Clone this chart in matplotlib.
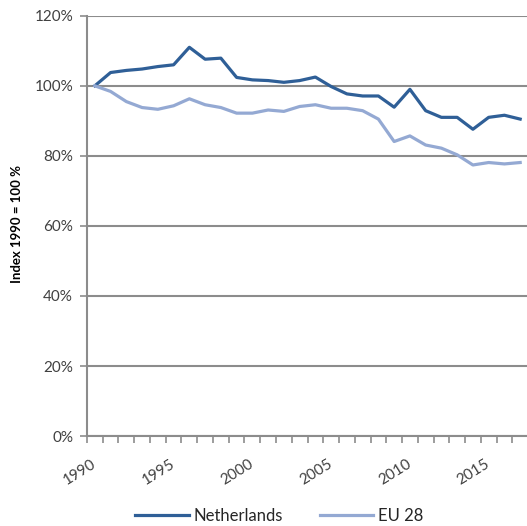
import numpy as np
import matplotlib
matplotlib.use("Agg")
import matplotlib.pyplot as plt
from matplotlib.ticker import FixedLocator, FuncFormatter

plt.rcParams['font.family'] = ['Lato', 'DejaVu Sans']

# data (index 1990 = 100 %)
years = list(range(1990, 2018))
netherlands = [100, 103.8, 104.4, 104.8, 105.5, 106.0, 111.0, 107.6, 107.9, 102.4,
               101.7, 101.5, 101.0, 101.5, 102.5, 99.8, 97.7, 97.1, 97.1, 93.9,
               99.0, 92.9, 91.0, 91.0, 87.6, 91.0, 91.6, 90.5]
eu28 = [100, 98.4, 95.5, 93.8, 93.3, 94.3, 96.3, 94.6, 93.8, 92.2,
        92.2, 93.1, 92.7, 94.1, 94.6, 93.6, 93.6, 92.9, 90.5, 84.1,
        85.7, 83.1, 82.2, 80.3, 77.4, 78.1, 77.7, 78.1]
yticks = [0, 20, 40, 60, 80, 100, 120]
label_years = [1990, 1995, 2000, 2005, 2010, 2015]

grey = '#8c8c8c'

fig = plt.figure(figsize=(5.27, 5.26), dpi=100)
ax = fig.add_axes([0.165, 0.171, 0.837, 0.799])

x = np.arange(len(years))
ax.plot(x, netherlands, color='#2f5f97', lw=2.3, label='Netherlands', zorder=3)
ax.plot(x, eu28, color='#94a9d3', lw=2.3, label='EU 28', zorder=3)

ax.set_xlim(-0.5, len(years) - 0.5)
ax.set_ylim(0, 120)

# y axis
ax.set_yticks(yticks)
ax.yaxis.set_major_formatter(FuncFormatter(lambda v, p: '%d%%' % v))
ax.grid(axis='y', color=grey, lw=1.5)
ax.tick_params(axis='y', length=5, width=1.2, color=grey, labelsize=11,
               labelcolor='#404040', pad=5)

# x axis: tick marks between categories, labels every 5 years
ax.xaxis.set_minor_locator(FixedLocator(np.arange(-0.5, len(years), 1)))
ax.set_xticks([years.index(y) for y in label_years])
ax.set_xticklabels([str(y) for y in label_years], rotation=32, ha='right',
                   va='center', rotation_mode='anchor')
ax.tick_params(axis='x', which='major', length=0, labelsize=11,
               labelcolor='#404040', pad=19)
ax.tick_params(axis='x', which='minor', length=5, width=1.2, color=grey)

for s in ['top', 'right']:
    ax.spines[s].set_visible(False)
for s in ['left', 'bottom']:
    ax.spines[s].set_color(grey)
    ax.spines[s].set_linewidth(1.5)

fig.text(0.033, 0.574, 'Index 1990 = 100 %', rotation=90, ha='center',
         va='center', fontsize=9.5, fontweight='bold', color='#000000')

fig.legend(loc='center', bbox_to_anchor=(0.53, 0.019), ncol=2, frameon=False,
           fontsize=12, handlelength=3.2, columnspacing=2.2, handletextpad=0.3,
           labelcolor='#262626')

fig.savefig('out.png', dpi=100)
